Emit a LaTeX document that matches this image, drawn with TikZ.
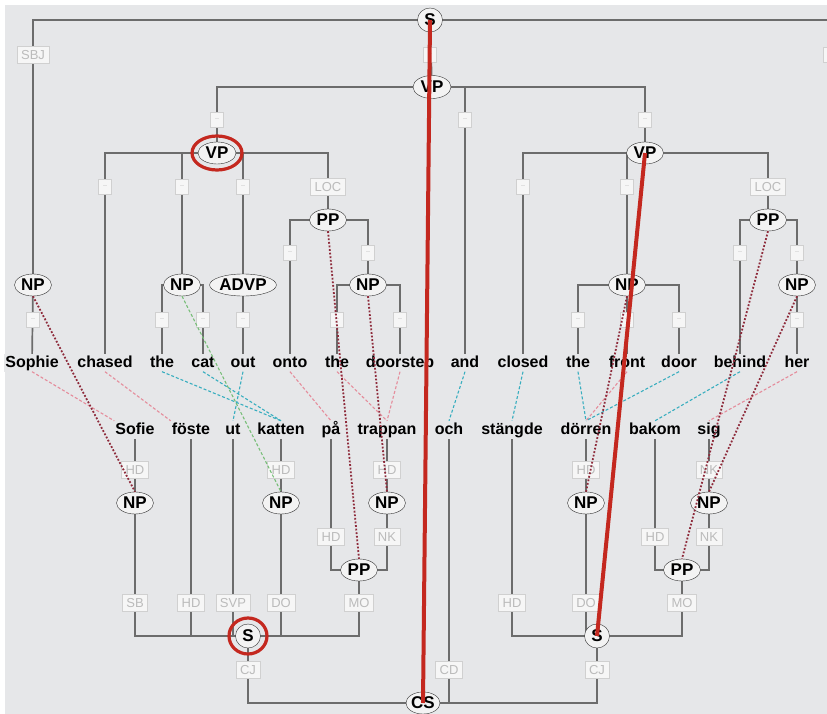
\documentclass[tikz,border=0pt]{standalone}
\usepackage{fontspec}
\setmainfont{Liberation Sans}
\usetikzlibrary{shapes.geometric,backgrounds}
\definecolor{canvas}{HTML}{E6E7E9}
\definecolor{branchgray}{HTML}{6C6C6C}
\definecolor{labgray}{HTML}{BBBBBB}
\definecolor{labfill}{HTML}{F6F6F6}
\definecolor{labline}{HTML}{D0D0D0}
\definecolor{phrasefill}{HTML}{F3F3F3}
\definecolor{markred}{HTML}{C4281F}
\definecolor{alnred}{HTML}{8E2B3B}
\definecolor{alnpink}{HTML}{E58C9B}
\definecolor{alncyan}{HTML}{38AEBF}
\definecolor{alngreen}{HTML}{78BE78}
\tikzset{
  phrase/.style={draw=black!80, ellipse, fill=phrasefill, inner sep=0pt, minimum width=37pt, minimum height=22pt, font=\bfseries\fontsize{17}{17}\selectfont},
  word/.style={fill=canvas, inner sep=1pt, anchor=base, text height=12pt, text depth=3.5pt, font=\bfseries\fontsize{16}{16}\selectfont},
  edgelab/.style={draw=labline, fill=labfill, text=labgray, inner xsep=4pt, inner ysep=1pt, minimum height=17pt, font=\fontsize{13}{13}\selectfont},
  dashlab/.style={draw=labline, fill=labfill, text=labgray, inner sep=0pt, minimum width=13pt, minimum height=15pt, font=\fontsize{6}{6}\selectfont},
  branch/.style={draw=branchgray, line width=1.7pt},
  alnphrase/.style={alnred, line width=1.8pt, dash pattern=on 1.8pt off 1.8pt},
  alnword/.style={line width=1.1pt, dash pattern=on 3pt off 2pt},
  markline/.style={markred, line width=4pt},
  markring/.style={markred, line width=3.2pt}
}

\begin{document}
\begin{tikzpicture}[x=1pt, y=-1pt]
  \useasboundingbox (0,0) rectangle (827,714);

  \node[phrase, minimum width=25pt, minimum height=24pt] (sTop) at (430,20) {S};
  \node[phrase, minimum width=38pt, minimum height=23pt] (vpTop) at (432,87) {VP};
  \node[phrase, minimum width=38pt, minimum height=22pt] (vpL) at (217,153) {VP};
  \node[phrase, minimum width=37pt, minimum height=22pt] (vpR) at (645,153) {VP};
  \node[phrase] (ppL) at (328,220) {PP};
  \node[phrase] (ppR) at (768,220) {PP};
  \node[phrase] (npSophie) at (33,285) {NP};
  \node[phrase] (npCat) at (182,285) {NP};
  \node[phrase] (advp) at (243,285) {ADVP};
  \node[phrase] (npDoor) at (368,285) {NP};
  \node[phrase] (npFront) at (627,285) {NP};
  \node[phrase] (npHer) at (797,285) {NP};

  \node[word] (sophie) at (32,367) {Sophie};
  \node[word] (chased) at (105,367) {chased};
  \node[word] (theA) at (162,367) {the};
  \node[word] (cat) at (203,367) {cat};
  \node[word] (out) at (243,367) {out};
  \node[word] (onto) at (290,367) {onto};
  \node[word] (theB) at (337,367) {the};
  \node[word] (doorstep) at (400,367) {doorstep};
  \node[word] (and) at (465,367) {and};
  \node[word] (closed) at (523,367) {closed};
  \node[word] (theC) at (578,367) {the};
  \node[word] (front) at (627,367) {front};
  \node[word] (door) at (679,367) {door};
  \node[word] (behind) at (740,367) {behind};
  \node[word] (her) at (797,367) {her};

  \node[word] (sofie) at (135,434) {Sofie};
  \node[word] (foste) at (191,434) {föste};
  \node[word] (ut) at (233,434) {ut};
  \node[word] (katten) at (281,434) {katten};
  \node[word] (paa) at (331,434) {på};
  \node[word] (trappan) at (387,434) {trappan};
  \node[word] (och) at (449,434) {och};
  \node[word] (stangde) at (512,434) {stängde};
  \node[word] (dorren) at (586,434) {dörren};
  \node[word] (bakom) at (655,434) {bakom};
  \node[word] (sig) at (709,434) {sig};

  \node[phrase] (npSofie) at (135,503) {NP};
  \node[phrase] (npKatten) at (281,503) {NP};
  \node[phrase] (npTrappan) at (387,503) {NP};
  \node[phrase] (npDorren) at (586,503) {NP};
  \node[phrase] (npSig) at (709,503) {NP};
  \node[phrase] (ppPaa) at (359,570) {PP};
  \node[phrase] (ppBakom) at (682,570) {PP};
  \node[phrase, minimum width=25pt, minimum height=24pt] (sL) at (248,636) {S};
  \node[phrase, minimum width=25pt, minimum height=24pt] (sR) at (597,636) {S};
  \node[phrase, minimum width=34pt, minimum height=22pt] (cs) at (423,703) {CS};

  \node[edgelab] (lSbj) at (33,55) {SBJ};
  \node[dashlab] (lTopVp) at (430,55) {-{}-};
  \node[dashlab] (lRight) at (830,55) {-{}-};
  \node[dashlab] (lVpL) at (217,120) {-{}-};
  \node[dashlab] (lAnd) at (465,120) {-{}-};
  \node[dashlab] (lVpR) at (645,120) {-{}-};
  \node[dashlab] (lChased) at (105,187) {-{}-};
  \node[dashlab] (lNpCat) at (182,187) {-{}-};
  \node[dashlab] (lAdvp) at (243,187) {-{}-};
  \node[edgelab] (lLocL) at (328,187) {LOC};
  \node[dashlab] (lClosed) at (523,187) {-{}-};
  \node[dashlab] (lNpFront) at (627,187) {-{}-};
  \node[edgelab] (lLocR) at (768,187) {LOC};
  \node[dashlab] (lOnto) at (290,253) {-{}-};
  \node[dashlab] (lNpDoor) at (368,253) {-{}-};
  \node[dashlab] (lBehind) at (740,253) {-{}-};
  \node[dashlab] (lNpHer) at (797,253) {-{}-};
  \node[dashlab] (lSophie) at (33,320) {-{}-};
  \node[dashlab] (lTheA) at (162,320) {-{}-};
  \node[dashlab] (lCat) at (203,320) {-{}-};
  \node[dashlab] (lOut) at (243,320) {-{}-};
  \node[dashlab] (lTheB) at (337,320) {-{}-};
  \node[dashlab] (lDoorstep) at (400,320) {-{}-};
  \node[dashlab] (lTheC) at (578,320) {-{}-};
  \node[dashlab] (lFront) at (627,320) {-{}-};
  \node[dashlab] (lDoor) at (679,320) {-{}-};
  \node[dashlab] (lHer) at (797,320) {-{}-};

  \node[edgelab] (lHdSofie) at (135,470) {HD};
  \node[edgelab] (lHdKatten) at (281,470) {HD};
  \node[edgelab] (lHdTrappan) at (387,470) {HD};
  \node[edgelab] (lHdDorren) at (586,470) {HD};
  \node[edgelab] (lNkSig) at (709,470) {NK};
  \node[edgelab] (lHdPaa) at (331,537) {HD};
  \node[edgelab] (lNkTrappan) at (387,537) {NK};
  \node[edgelab] (lHdBakom) at (655,537) {HD};
  \node[edgelab] (lNkPp) at (709,537) {NK};
  \node[edgelab] (lSb) at (135,603) {SB};
  \node[edgelab] (lHdFoste) at (191,603) {HD};
  \node[edgelab] (lSvp) at (233,603) {SVP};
  \node[edgelab] (lDo) at (281,603) {DO};
  \node[edgelab] (lMo) at (359,603) {MO};
  \node[edgelab] (lHdStangde) at (512,603) {HD};
  \node[edgelab] (lDoR) at (586,603) {DO};
  \node[edgelab] (lMoR) at (682,603) {MO};
  \node[edgelab] (lCjL) at (248,670) {CJ};
  \node[edgelab] (lCd) at (449,670) {CD};
  \node[edgelab] (lCjR) at (597,670) {CJ};

  \begin{scope}[on background layer]
    \fill[white] (0,0) rectangle (827,714);
    \fill[canvas] (5,5) rectangle (827,714);
    \draw[branch] (sTop.center) -| (npSophie.center) -- (sophie.center);
    \draw[branch] (sTop.center) -| (lRight.center);
    \draw[branch] (sTop.center) -- (vpTop.center);
    \draw[branch] (vpTop.center) -| (vpL.center);
    \draw[branch] (vpTop.center) -| (and.center);
    \draw[branch] (vpTop.center) -| (vpR.center);
    \draw[branch] (vpL.center) -| (chased.center);
    \draw[branch] (vpL.center) -| (npCat.center);
    \draw[branch] (vpL.center) -| (advp.center) -- (out.center);
    \draw[branch] (vpL.center) -| (ppL.center);
    \draw[branch] (npCat.center) -| (theA.center);
    \draw[branch] (npCat.center) -| (cat.center);
    \draw[branch] (ppL.center) -| (onto.center);
    \draw[branch] (ppL.center) -| (npDoor.center);
    \draw[branch] (npDoor.center) -| (theB.center);
    \draw[branch] (npDoor.center) -| (doorstep.center);
    \draw[branch] (vpR.center) -| (closed.center);
    \draw[branch] (vpR.center) -| (npFront.center) -- (front.center);
    \draw[branch] (vpR.center) -| (ppR.center);
    \draw[branch] (npFront.center) -| (theC.center);
    \draw[branch] (npFront.center) -| (door.center);
    \draw[branch] (ppR.center) -| (behind.center);
    \draw[branch] (ppR.center) -| (npHer.center) -- (her.center);

    \draw[branch] (sofie.center) -- (npSofie.center) |- (sL.center);
    \draw[branch] (foste.center) |- (sL.center);
    \draw[branch] (ut.center) |- (sL.center);
    \draw[branch] (katten.center) -- (npKatten.center) |- (sL.center);
    \draw[branch] (paa.center) |- (ppPaa.center);
    \draw[branch] (trappan.center) -- (npTrappan.center) |- (ppPaa.center);
    \draw[branch] (ppPaa.center) |- (sL.center);
    \draw[branch] (sL.center) |- (cs.center);
    \draw[branch] (och.center) |- (cs.center);
    \draw[branch] (sR.center) |- (cs.center);
    \draw[branch] (stangde.center) |- (sR.center);
    \draw[branch] (dorren.center) -- (npDorren.center) |- (sR.center);
    \draw[branch] (bakom.center) |- (ppBakom.center);
    \draw[branch] (sig.center) -- (npSig.center) |- (ppBakom.center);
    \draw[branch] (ppBakom.center) |- (sR.center);
  \end{scope}

  \draw[alnword, alnpink] (sophie.south) -- (sofie.north west);
  \draw[alnword, alnpink] (chased.south) -- (foste.north west);
  \draw[alnword, alncyan] (theA.south) -- (katten.north);
  \draw[alnword, alncyan] (cat.south) -- (katten.north);
  \draw[alnword, alncyan] (out.south) -- (ut.north);
  \draw[alnword, alnpink] (onto.south) -- (paa.north);
  \draw[alnword, alnpink] (theB.south) -- (trappan.north);
  \draw[alnword, alnpink] (doorstep.south) -- (trappan.north);
  \draw[alnword, alncyan] (and.south) -- (och.north);
  \draw[alnword, alncyan] (closed.south) -- (stangde.north);
  \draw[alnword, alncyan] (theC.south) -- (dorren.north);
  \draw[alnword, alnpink] (front.south) -- (dorren.north);
  \draw[alnword, alncyan] (door.south) -- (dorren.north);
  \draw[alnword, alncyan] (behind.south) -- (bakom.north);
  \draw[alnword, alnpink] (her.south) -- (sig.north);
  \draw[alnword, alngreen] (npCat.south) -- (npKatten.north);

  \draw[alnphrase] (npSophie.south) -- (npSofie.north);
  \draw[alnphrase] (ppL.south) -- (ppPaa.north);
  \draw[alnphrase] (npDoor.south) -- (npTrappan.north);
  \draw[alnphrase] (npFront.south) -- (npDorren.north);
  \draw[alnphrase] (ppR.south) -- (ppBakom.north);
  \draw[alnphrase] (npHer.south) -- (npSig.north);

  \draw[markline] (sTop.center) -- (cs.center);
  \draw[markline] (vpR.center) -- (sR.center);
  \draw[markring] (vpL.center) ellipse [x radius=25, y radius=17];
  \draw[markring] (sL.center) ellipse [x radius=19, y radius=18];
\end{tikzpicture}
\end{document}
